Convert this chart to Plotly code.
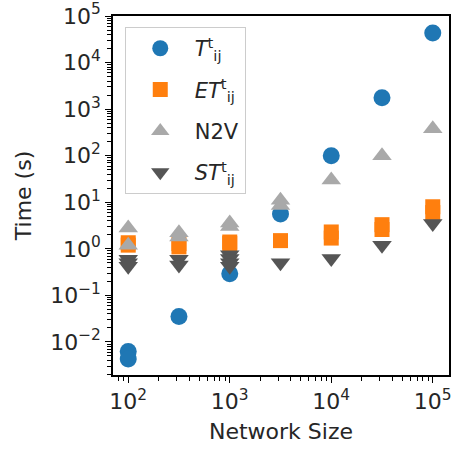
import plotly.graph_objects as go

# data
t_x = [100, 100, 316, 1000, 3162, 10000, 31623, 100000]
t_y = [0.0062, 0.0043, 0.035, 0.29, 5.6, 100, 1750, 43000]

et_x = [100, 100, 316, 316, 1000, 1000, 3162, 10000, 10000, 31623, 31623, 100000, 100000]
et_y = [1.35, 1.2, 1.1, 1.3, 1.4, 1.3, 1.5, 1.7, 2.3, 2.6, 3.3, 6.0, 8.0]

n2v_x = [100, 100, 316, 316, 1000, 1000, 3162, 3162, 10000, 31623, 100000]
n2v_y = [2.8, 1.2, 1.8, 2.2, 3.6, 3.0, 8.5, 11, 30, 100, 380]

st_x = [100, 100, 100, 316, 316, 1000, 1000, 1000, 1000, 3162, 10000, 31623, 100000]
st_y = [0.6, 0.5, 0.42, 0.6, 0.45, 0.75, 0.62, 0.5, 0.42, 0.5, 0.62, 1.2, 3.5]

x_exps = [2, 3, 4, 5]
y_exps = [-2, -1, 0, 1, 2, 3, 4, 5]

series = [
    ("<i>T</i><sup>t</sup><sub>ij</sub>", t_x, t_y, "circle", "#1f77b4", 17),
    ("<i>ET</i><sup>t</sup><sub>ij</sub>", et_x, et_y, "square", "#ff7f0e", 15),
    ("N2V", n2v_x, n2v_y, "triangle-up", "#a9a9a9", 17),
    ("<i>ST</i><sup>t</sup><sub>ij</sub>", st_x, st_y, "triangle-down", "#555555", 17),
]

fig = go.Figure()
for i, (name, xs, ys, sym, col, sz) in enumerate(series):
    fig.add_trace(go.Scatter(
        x=xs, y=ys, mode="markers", name=name, legendgroup=f"g{i}",
        marker=dict(symbol=sym, size=sz, color=col, line=dict(width=0)),
    ))

def labels(exps):
    return [f"10<sup>{e}</sup>".replace("-", "\u2212") for e in exps]

font = dict(family="DejaVu Sans", size=22, color="#262626")
fig.update_layout(
    width=452, height=449,
    margin=dict(l=113, r=3, t=16, b=74, autoexpand=False),
    plot_bgcolor="white", paper_bgcolor="white",
    font=font,
    showlegend=True,
    legend=dict(
        x=0.035, y=0.969, xanchor="left", yanchor="top",
        bgcolor="rgba(255,255,255,0.8)", bordercolor="#cccccc", borderwidth=1,
        font=dict(family="DejaVu Sans", size=21, color="#262626"),
        itemsizing="trace", traceorder="grouped", tracegroupgap=11,
        itemwidth=59,
    ),
)
fig.update_xaxes(
    type="log", range=[1.85, 5.16],
    tickmode="array", tickvals=[10 ** e for e in x_exps], ticktext=labels(x_exps),
    showgrid=False, zeroline=False, showline=True, linecolor="black", linewidth=1.5, mirror=True,
    ticks="outside", ticklen=6, tickwidth=1.3, tickcolor="black",
    minor=dict(ticks="outside", ticklen=4, tickwidth=1, tickcolor="black", showgrid=False,
               tickmode="linear", dtick="D1"),
    title=dict(text="Network Size", font=font, standoff=10),
    tickfont=font,
)
fig.update_yaxes(
    type="log", range=[-2.71, 5.0],
    tickmode="array", tickvals=[10 ** e for e in y_exps], ticktext=labels(y_exps),
    showgrid=False, zeroline=False, showline=True, linecolor="black", linewidth=1.5, mirror=True,
    ticks="outside", ticklen=6, tickwidth=1.3, tickcolor="black",
    minor=dict(ticks="outside", ticklen=4, tickwidth=1, tickcolor="black", showgrid=False,
               tickmode="linear", dtick="D1"),
    title=dict(text="Time (s)", font=font, standoff=12),
    tickfont=font,
)
fig.write_html("out.html", config={"displayModeBar": False},
               post_script="document.body.style.margin='0';")
